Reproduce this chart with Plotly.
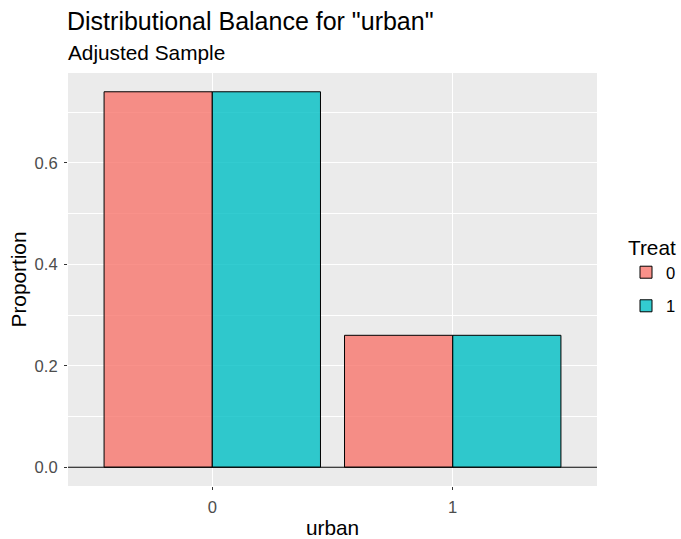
import plotly.graph_objects as go

# data
categories = ["0", "1"]
treat_levels = ["0", "1"]
proportions = {
    "0": [0.74, 0.26],
    "1": [0.74, 0.26],
}
fill_colors = {"0": "rgba(248,118,109,0.8)", "1": "rgba(0,191,196,0.8)"}

FONT = "Liberation Sans, Arial, sans-serif"

fig = go.Figure()
for lvl in treat_levels:
    fig.add_trace(go.Bar(
        x=categories,
        y=proportions[lvl],
        name=lvl,
        legendgroup=lvl,
        marker=dict(color=fill_colors[lvl], line=dict(color="black", width=1)),
    ))

# horizontal line at zero across the panel
fig.add_shape(type="line", xref="paper", yref="y", x0=0, x1=1, y0=0, y1=0,
              line=dict(color="black", width=1.1), layer="above")

# subtitle
fig.add_annotation(text="Adjusted Sample", xref="paper", yref="paper", x=0, y=1,
                   xanchor="left", yanchor="middle", xshift=-2, yshift=21,
                   showarrow=False, font=dict(size=20.8, color="black"))

fig.update_layout(
    width=681, height=539,
    barmode="group", bargap=0.1, bargroupgap=0,
    paper_bgcolor="white", plot_bgcolor="#EBEBEB",
    margin=dict(l=68, r=84, t=73, b=53, autoexpand=False),
    font=dict(family=FONT, color="black"),
    title=dict(
        text='Distributional Balance for "urban"',
        font=dict(size=25, color="black"),
        x=67 / 681, xanchor="left",
        y=1 - 12 / 539, yanchor="top", yref="container",
    ),
    legend=dict(
        title=dict(text="Treat", font=dict(size=20.8)),
        font=dict(size=16.6),
        xref="container", x=1, xanchor="right", y=0.625, yanchor="top",
        tracegroupgap=9,
        bgcolor="rgba(0,0,0,0)",
    ),
    xaxis=dict(
        type="category", range=[-0.6, 1.6], automargin=False,
        showgrid=True, gridcolor="white", gridwidth=1.1,
        ticks="outside", ticklen=3, tickcolor="#333333", ticklabelstandoff=3,
        tickfont=dict(size=16.6, color="#4D4D4D"),
        title=dict(text="urban", font=dict(size=20.8), standoff=5),
        zeroline=False, showline=False,
    ),
    yaxis=dict(
        range=[-0.037, 0.777], dtick=0.2, tick0=0, tickformat=".1f", automargin=False,
        showgrid=True, gridcolor="white", gridwidth=1.1,
        minor=dict(dtick=0.1, tick0=0.1, showgrid=True, gridcolor="white", gridwidth=0.5),
        ticks="outside", ticklen=3, tickcolor="#333333", ticklabelstandoff=3,
        tickfont=dict(size=16.6, color="#4D4D4D"),
        title=dict(text="Proportion", font=dict(size=20.8), standoff=2),
        zeroline=False, showline=False,
    ),
)

# drop the default 8px page margin so the 681x539 figure fills the window
fig.write_html("out.html", config={"displayModeBar": False},
               post_script="document.body.style.margin='0';")
